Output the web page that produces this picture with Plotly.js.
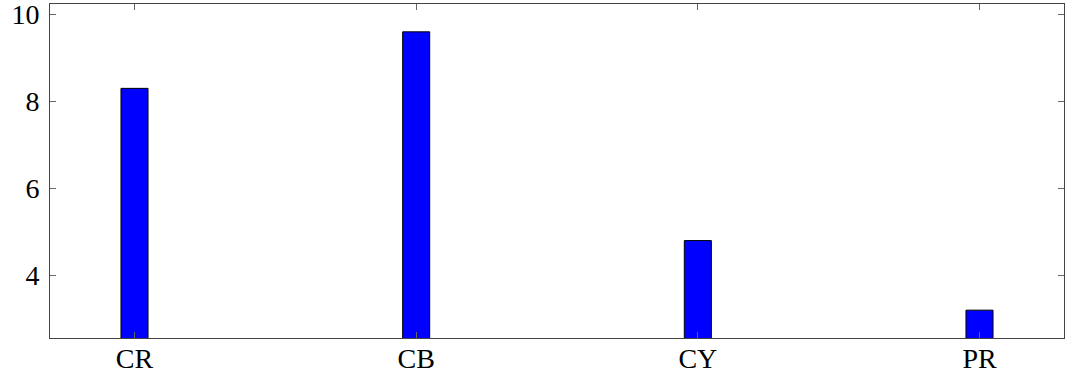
<!DOCTYPE html>
<html>
<head>
<meta charset="utf-8">
<script src="https://cdn.plot.ly/plotly-3.0.1.min.js"></script>
<style>html,body{margin:0;padding:0;background:#fff;}#chart{width:1065px;height:379px;}</style>
</head>
<body>
<div id="chart"></div>
<script>
const categories = ["CR", "CB", "CY", "PR"];
const values = [8.3, 9.6, 4.8, 3.2];
const yTicks = [4, 6, 8, 10];

const trace = {
  type: "bar",
  x: categories,
  y: values,
  width: 0.096,
  marker: {color: "#0000ff", line: {color: "#000000", width: 1}},
  hoverinfo: "skip"
};

const font = {family: "Liberation Serif, DejaVu Serif, serif", size: 28, color: "#000"};

const layout = {
  width: 1065,
  height: 379,
  margin: {l: 50, r: 1, t: 4, b: 41},
  paper_bgcolor: "#fff",
  plot_bgcolor: "#fff",
  showlegend: false,
  font: font,
  xaxis: {
    type: "category",
    range: [-0.3, 3.3],
    showgrid: false,
    zeroline: false,
    showline: true,
    linecolor: "#444",
    linewidth: 1,
    mirror: "ticks",
    ticks: "inside",
    ticklen: 6,
    tickcolor: "#666",
    tickfont: font,
    ticklabelstandoff: -5,
    ticklabeloverflow: "allow"
  },
  yaxis: {
    range: [2.56, 10.24],
    tickvals: yTicks,
    ticktext: yTicks.map(String),
    showgrid: false,
    zeroline: false,
    showline: true,
    linecolor: "#444",
    linewidth: 1,
    mirror: "ticks",
    ticks: "inside",
    ticklen: 6,
    tickcolor: "#666",
    tickfont: font,
    ticklabelstandoff: 4,
    ticklabeloverflow: "allow"
  },
  bargap: 0
};

Plotly.newPlot("chart", [trace], layout, {displayModeBar: false, staticPlot: true});
</script>
</body>
</html>
